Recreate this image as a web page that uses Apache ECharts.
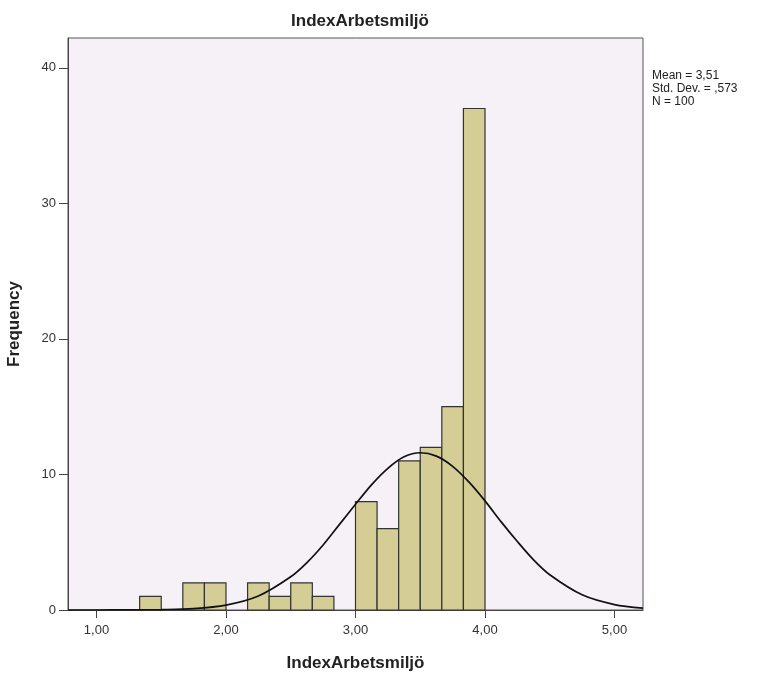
<!DOCTYPE html>
<html>
<head>
<meta charset="utf-8">
<script src="https://cdn.jsdelivr.net/npm/echarts@6/dist/echarts.min.js"></script>
<style>
  html, body { margin: 0; padding: 0; background: #fff; }
  #histogram { width: 764px; height: 680px; }
</style>
</head>
<body>
<div id="histogram"></div>
<script>
// bin lower edges (width 1/6) and counts
var binStart = [1.3333, 1.6667, 1.8333, 2.1667, 2.3333, 2.5, 2.6667, 3.0, 3.1667, 3.3333, 3.5, 3.6667, 3.8333];
var binWidth = 1 / 6;
var counts = [1, 2, 2, 2, 1, 2, 1, 8, 6, 11, 12, 15, 37];

// normal curve, points
var curveX = [0.78, 1.0, 1.25, 1.5, 1.75, 2.0, 2.25, 2.5, 2.625, 2.75, 2.875, 3.0, 3.125, 3.25, 3.375, 3.5,
              3.625, 3.75, 3.875, 4.0, 4.125, 4.25, 4.375, 4.5, 4.75, 5.0, 5.22];
var curveY = [0, 0, 0.01, 0.03, 0.1, 0.36, 1.03, 2.45, 3.5, 4.8, 6.3, 7.8, 9.25, 10.45, 11.3, 11.6,
              11.35, 10.6, 9.45, 8.05, 6.5, 5.05, 3.7, 2.6, 1.12, 0.4, 0.14];

var xTicks = [1, 2, 3, 4, 5];
var yTicks = [0, 10, 20, 30, 40];

var statsText = ['Mean = 3,51', 'Std. Dev. = ,573', 'N = 100'];

var barData = binStart.map(function (s, i) { return [s, s + binWidth, counts[i]]; });
var curveData = curveX.map(function (x, i) { return [x, curveY[i]]; });

var fontFam = 'Arial, "Liberation Sans", sans-serif';

var option = {
  animation: false,
  backgroundColor: '#ffffff',
  title: {
    text: 'IndexArbetsmiljö',
    left: 355,
    textAlign: 'center',
    top: 8,
    textStyle: { fontFamily: fontFam, fontSize: 17, fontWeight: 'bold', color: '#222' }
  },
  graphic: [{
    type: 'text',
    left: 652,
    top: 69,
    style: {
      text: statsText.join('\n'),
      font: '12px ' + fontFam,
      fill: '#222',
      lineHeight: 13
    }
  }],
  grid: {
    left: 68, right: 121, top: 38, bottom: 70,
    outerBoundsMode: 'none',
    containLabel: false,
    show: true,
    backgroundColor: '#f5f1f6',
    borderColor: '#555',
    borderWidth: 1
  },
  xAxis: {
    type: 'value',
    min: 0.78,
    max: 5.22,
    name: 'IndexArbetsmiljö',
    nameLocation: 'middle',
    nameGap: 45,
    nameTextStyle: { fontFamily: fontFam, fontSize: 17, fontWeight: 'bold', color: '#222' },
    axisLine: { show: true, lineStyle: { color: '#444', width: 1 } },
    axisTick: { show: true, length: 8, customValues: xTicks, lineStyle: { color: '#444' } },
    axisLabel: {
      customValues: xTicks,
      fontFamily: fontFam, fontSize: 13, color: '#333', margin: 14,
      formatter: function (v) { return v.toFixed(2).replace('.', ','); }
    },
    splitLine: { show: false }
  },
  yAxis: {
    type: 'value',
    min: 0,
    max: 42.2,
    name: 'Frequency',
    nameLocation: 'middle',
    nameGap: 45,
    nameRotate: 90,
    nameTextStyle: { fontFamily: fontFam, fontSize: 17, fontWeight: 'bold', color: '#222' },
    axisLine: { show: true, lineStyle: { color: '#444', width: 1 } },
    axisTick: { show: true, length: 9, customValues: yTicks, lineStyle: { color: '#444' } },
    axisLabel: {
      customValues: yTicks,
      fontFamily: fontFam, fontSize: 13, color: '#333', margin: 12
    },
    splitLine: { show: false }
  },
  series: [{
    type: 'custom',
    data: barData,
    encode: { x: [0, 1], y: 2 },
    renderItem: function (params, api) {
      var p0 = api.coord([api.value(0), api.value(2)]);
      var p1 = api.coord([api.value(1), 0]);
      return {
        type: 'rect',
        shape: { x: p0[0], y: p0[1], width: p1[0] - p0[0], height: p1[1] - p0[1] },
        style: { fill: '#d5cd96', stroke: '#333', lineWidth: 1.2 }
      };
    },
    z: 2
  }, {
    type: 'line',
    data: curveData,
    smooth: 0.3,
    showSymbol: false,
    lineStyle: { color: '#111', width: 1.7 },
    z: 3
  }]
};

var chart = echarts.init(document.getElementById('histogram'));
chart.setOption(option);
window.addEventListener('resize', function () {
  chart.resize();
});
</script>
</body>
</html>
